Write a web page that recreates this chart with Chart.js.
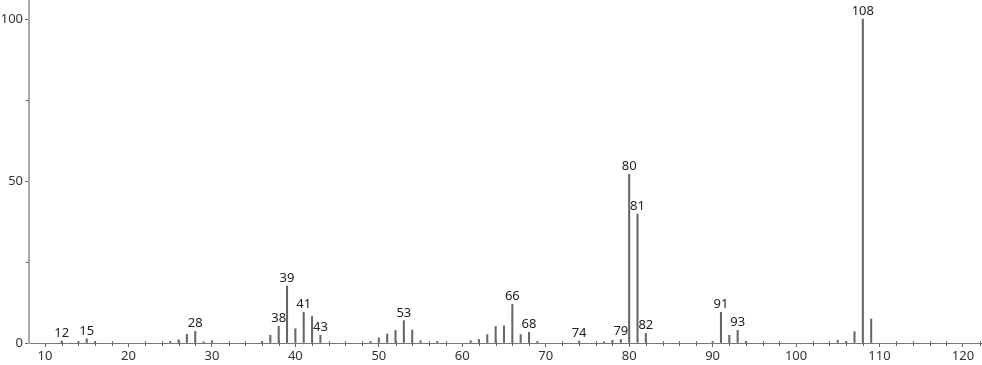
<!DOCTYPE html>
<html>
<head>
<meta charset="utf-8">
<script src="https://cdn.jsdelivr.net/npm/chart.js@4/dist/chart.umd.min.js"></script>
<style>
  html, body { margin: 0; padding: 0; background: #fff; }
  #wrap { width: 982px; height: 365px; }
</style>
</head>
<body>
<div id="wrap"><canvas id="spectrum"></canvas></div>
<script>
// m/z values and relative intensities (%)
const mz = [12, 14, 15, 16, 25, 26, 27, 28, 29, 30, 36, 37, 38, 39, 40, 41, 42, 43,
  49, 50, 51, 52, 53, 54, 55, 57, 61, 62, 63, 64, 65, 66, 67, 68, 69,
  74, 77, 78, 79, 80, 81, 82, 90, 91, 92, 93, 94, 105, 106, 107, 108, 109];
const intensity = [0.6, 0.4, 1.3, 0.5, 0.5, 1.0, 2.7, 3.6, 0.4, 0.7, 0.5, 2.4, 5.2, 17.6, 4.4, 9.5, 8.2, 2.4,
  0.5, 1.6, 2.8, 3.9, 6.9, 4.0, 0.7, 0.5, 0.7, 1.1, 2.6, 5.1, 5.3, 11.9, 2.6, 3.3, 0.5,
  0.6, 0.4, 0.8, 1.1, 52.1, 39.8, 3.0, 0.5, 9.5, 2.4, 3.9, 0.5, 0.8, 0.5, 3.5, 100, 7.4];
// peaks that carry a label
const labeled = [12, 15, 28, 38, 39, 41, 43, 53, 66, 68, 74, 79, 80, 81, 82, 91, 93, 108];
// axis ticks
const xMajor = [10, 20, 30, 40, 50, 60, 70, 80, 90, 100, 110, 120];
const yMajor = [0, 50, 100];
const yMinor = [25, 75];

const FONT = "'Noto Sans', sans-serif";

// minor ticks + peak labels
const extras = {
  id: "extras",
  afterDraw(chart) {
    const { ctx, scales: { x, y } } = chart;
    const y0 = y.getPixelForValue(0);
    ctx.save();
    ctx.strokeStyle = "#666";
    ctx.lineWidth = 1;
    ctx.beginPath();
    for (let v = 10; v <= 122; v += 2) {
      if (v % 10 === 0) continue;
      const px = Math.round(x.getPixelForValue(v)) + 0.5;
      ctx.moveTo(px, y0 - 2);
      ctx.lineTo(px, y0 + 3);
    }
    yMinor.forEach(v => {
      const py = Math.round(y.getPixelForValue(v)) + 0.5;
      ctx.moveTo(x.left - 3, py);
      ctx.lineTo(x.left, py);
    });
    ctx.stroke();

    ctx.fillStyle = "#222";
    ctx.font = "13px " + FONT;
    ctx.textAlign = "center";
    ctx.textBaseline = "alphabetic";
    const meta = chart.getDatasetMeta(0);
    mz.forEach((m, i) => {
      if (!labeled.includes(m)) return;
      const el = meta.data[i];
      ctx.fillText(String(m), el.x, el.y - 4);
    });
    ctx.restore();
  }
};

new Chart(document.getElementById("spectrum"), {
  type: "bar",
  data: {
    datasets: [{
      data: mz.map((m, i) => ({ x: m, y: intensity[i] })),
      backgroundColor: "#666",
      barThickness: 1.4,
      borderWidth: 0
    }]
  },
  options: {
    responsive: true,
    maintainAspectRatio: false,
    animation: false,
    layout: { padding: 0 },
    plugins: { legend: { display: false }, tooltip: { enabled: false } },
    scales: {
      x: {
        type: "linear",
        offset: false,
        min: 8.08,
        max: 122.28,
        afterFit: s => { s.height = 22; s.paddingLeft = 0; s.paddingRight = 0; },
        afterBuildTicks: s => { s.ticks = xMajor.map(v => ({ value: v })); },
        ticks: { color: "#333", font: { family: FONT, size: 13 }, padding: 1, maxRotation: 0 },
        grid: { offset: false, drawOnChartArea: false, tickLength: 4, color: "#666" },
        border: { color: "#777", width: 1 }
      },
      y: {
        min: 0,
        max: 105.9,
        afterFit: s => { s.width = 29; s.paddingTop = 0; s.paddingBottom = 0; },
        afterBuildTicks: s => { s.ticks = yMajor.map(v => ({ value: v })); },
        ticks: { color: "#333", font: { family: FONT, size: 13 }, padding: 2 },
        grid: { drawOnChartArea: false, tickLength: 4, color: "#666" },
        border: { color: "#aaa", width: 2 }
      }
    }
  },
  plugins: [extras]
});
</script>
</body>
</html>
